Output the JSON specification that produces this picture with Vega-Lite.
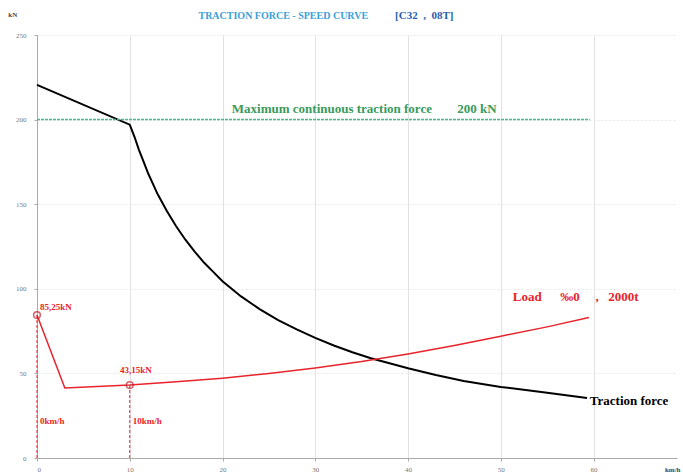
{
  "$schema": "https://vega.github.io/schema/vega-lite/v6.json",
  "width": 640,
  "height": 423,
  "autosize": {"type": "none"},
  "padding": {"left": 37, "top": 35, "right": 6, "bottom": 17},
  "background": "white",
  "config": {"view": {"stroke": null}, "font": "Liberation Serif"},
  "datasets": {
    "traction": [
      {"v": 0, "f": 220.5}, {"v": 10, "f": 197}, {"v": 10.5, "f": 190}, {"v": 11, "f": 182},
      {"v": 11.5, "f": 175}, {"v": 12, "f": 168}, {"v": 12.5, "f": 162}, {"v": 13, "f": 156},
      {"v": 14, "f": 146}, {"v": 15, "f": 137}, {"v": 16, "f": 129}, {"v": 17, "f": 122},
      {"v": 18, "f": 115.5}, {"v": 19, "f": 110}, {"v": 20, "f": 104.5}, {"v": 22, "f": 95.5},
      {"v": 24, "f": 88}, {"v": 26, "f": 81.5}, {"v": 28, "f": 76}, {"v": 30, "f": 71},
      {"v": 32, "f": 66.5}, {"v": 34, "f": 62.5}, {"v": 36, "f": 59}, {"v": 38, "f": 56},
      {"v": 40, "f": 53}, {"v": 43, "f": 49}, {"v": 46, "f": 45.5}, {"v": 50, "f": 42},
      {"v": 55, "f": 38.5}, {"v": 59.3, "f": 35.5}
    ],
    "load": [
      {"v": 0, "f": 84.5}, {"v": 3, "f": 41.4}, {"v": 10, "f": 43.1}, {"v": 15, "f": 45},
      {"v": 20, "f": 47.2}, {"v": 25, "f": 50}, {"v": 30, "f": 53.2}, {"v": 35, "f": 57},
      {"v": 40, "f": 61.5}, {"v": 45, "f": 66.5}, {"v": 50, "f": 72}, {"v": 55, "f": 77.5},
      {"v": 59.5, "f": 83}
    ],
    "points": [
      {"v": 0, "f": 84.5, "label": "85,25kN", "speed": "0km/h", "s": 22},
      {"v": 10, "f": 43.1, "label": "43,15kN", "speed": "10km/h", "s": 22}
    ],
    "maxline": [{"v": 0, "f": 200}, {"v": 59.6, "f": 200}]
  },
  "layer": [
    {
      "data": {"name": "traction"},
      "mark": {"type": "line", "color": "black", "strokeWidth": 2},
      "encoding": {
        "x": {"field": "v", "type": "quantitative", "scale": {"domain": [0, 69], "nice": false},
          "axis": {"title": null, "values": [0, 10, 20, 30, 40, 50, 60],
            "labelFontSize": 7, "labelColor": "#777", "labelFont": "Liberation Serif", "domainColor": "#aaa", "tickColor": "#aaa", "tickSize": 3,
            "grid": true, "gridColor": "#e2e2e2", "labelPadding": 4}},
        "y": {"field": "f", "type": "quantitative", "scale": {"domain": [0, 250], "nice": false},
          "axis": {"title": null, "values": [0, 50, 100, 150, 200, 250], "labelFontSize": 7, "labelColor": "#777", "labelFont": "Liberation Serif",
            "domainColor": "#aaa", "tickColor": "#aaa", "tickSize": 3, "grid": true, "gridColor": "#e6e6e6", "gridDash": [2, 2], "labelPadding": 8}}
      }
    },
    {
      "data": {"name": "maxline"},
      "mark": {"type": "line", "color": "#4db88a", "strokeWidth": 1.5, "strokeDash": [3, 1]},
      "encoding": {"x": {"field": "v", "type": "quantitative"}, "y": {"field": "f", "type": "quantitative"}}
    },
    {
      "data": {"name": "load"},
      "mark": {"type": "line", "color": "#e8232a", "strokeWidth": 1.5},
      "encoding": {"x": {"field": "v", "type": "quantitative"}, "y": {"field": "f", "type": "quantitative"}}
    },
    {
      "data": {"name": "points"},
      "mark": {"type": "rule", "color": "#e8232a", "strokeWidth": 1, "strokeDash": [3, 2]},
      "encoding": {"x": {"field": "v", "type": "quantitative"}, "y": {"field": "f", "type": "quantitative"}, "y2": {"datum": 0}}
    },
    {
      "data": {"name": "points"},
      "mark": {"type": "point", "shape": "circle", "size": 45, "color": "#c0202a", "strokeWidth": 1.5, "filled": false},
      "encoding": {"x": {"field": "v", "type": "quantitative"}, "y": {"field": "f", "type": "quantitative"}}
    },
    {
      "data": {"name": "points"},
      "transform": [{"filter": "datum.v == 0"}],
      "mark": {"type": "text", "color": "#e8232a", "fontSize": 9, "fontWeight": "bold", "align": "left", "dx": 3, "dy": -8, "font": "Liberation Serif"},
      "encoding": {"x": {"field": "v", "type": "quantitative"}, "y": {"field": "f", "type": "quantitative"}, "text": {"field": "label"}}
    },
    {
      "data": {"name": "points"},
      "transform": [{"filter": "datum.v == 10"}],
      "mark": {"type": "text", "color": "#e8232a", "fontSize": 9, "fontWeight": "bold", "align": "center", "dx": 6, "dy": -15, "font": "Liberation Serif"},
      "encoding": {"x": {"field": "v", "type": "quantitative"}, "y": {"field": "f", "type": "quantitative"}, "text": {"field": "label"}}
    },
    {
      "data": {"name": "points"},
      "mark": {"type": "text", "color": "#e8232a", "fontSize": 9, "fontWeight": "bold", "align": "left", "dx": 3, "font": "Liberation Serif"},
      "encoding": {"x": {"field": "v", "type": "quantitative"}, "y": {"field": "s", "type": "quantitative"}, "text": {"field": "speed"}}
    },
    {
      "data": {"values": [{"v": 21.0, "f": 206, "t": "Maximum continuous traction force"}, {"v": 45.3, "f": 206, "t": "200 kN"}]},
      "mark": {"type": "text", "color": "#3a9a5a", "fontSize": 13, "fontWeight": "bold", "align": "left", "font": "Liberation Serif"},
      "encoding": {"x": {"field": "v", "type": "quantitative"}, "y": {"field": "f", "type": "quantitative"}, "text": {"field": "t"}}
    },
    {
      "data": {"values": [{"v": 51.3, "f": 95, "t": "Load"}, {"v": 56.4, "f": 95, "t": "‰0"}, {"v": 60.2, "f": 95, "t": ","}, {"v": 61.6, "f": 95, "t": "2000t"}]},
      "mark": {"type": "text", "color": "#e8232a", "fontSize": 13, "fontWeight": "bold", "align": "left", "font": "Liberation Serif"},
      "encoding": {"x": {"field": "v", "type": "quantitative"}, "y": {"field": "f", "type": "quantitative"}, "text": {"field": "t"}}
    },
    {
      "data": {"values": [{"v": 59.6, "f": 33.5, "t": "Traction force"}]},
      "mark": {"type": "text", "color": "black", "fontSize": 13, "fontWeight": "bold", "align": "left", "font": "Liberation Serif"},
      "encoding": {"x": {"field": "v", "type": "quantitative"}, "y": {"field": "f", "type": "quantitative"}, "text": {"field": "t"}}
    },
    {
      "data": {"values": [{"v": 35.7, "f": 261.5, "t": "TRACTION FORCE - SPEED CURVE"}]},
      "mark": {"type": "text", "color": "#3aa0d8", "fontSize": 10, "fontWeight": "bold", "align": "right", "font": "Liberation Serif"},
      "encoding": {"x": {"field": "v", "type": "quantitative"}, "y": {"field": "f", "type": "quantitative"}, "text": {"field": "t"}}
    },
    {
      "data": {"values": [{"v": 38.6, "f": 261.5, "t": "[C32\u00a0\u00a0,\u00a0\u00a008T]"}]},
      "mark": {"type": "text", "color": "#1f5fb0", "fontSize": 11, "fontWeight": "bold", "align": "left", "font": "Liberation Serif"},
      "encoding": {"x": {"field": "v", "type": "quantitative"}, "y": {"field": "f", "type": "quantitative"}, "text": {"field": "t"}}
    },
    {
      "data": {"values": [{"v": -3.1, "f": 261.8, "t": "kN"}, {"v": 67.7, "f": -7.3, "t": "km/h"}]},
      "mark": {"type": "text", "color": "#444", "fontSize": 7, "fontWeight": "bold", "align": "left", "font": "Liberation Serif"},
      "encoding": {"x": {"field": "v", "type": "quantitative"}, "y": {"field": "f", "type": "quantitative"}, "text": {"field": "t"}}
    }
  ]
}
